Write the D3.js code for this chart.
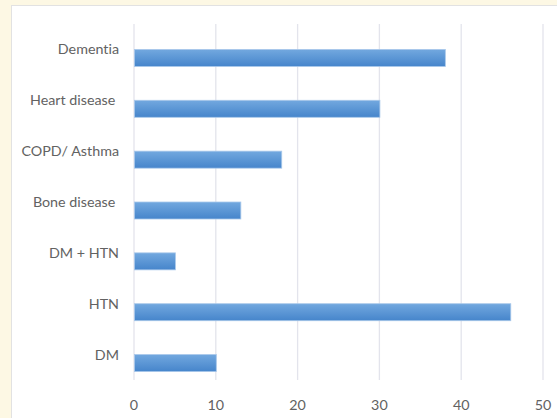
<!DOCTYPE html>
<html>
<head>
<meta charset="utf-8">
<script src="https://cdn.jsdelivr.net/npm/d3@7"></script>
<style>
  body { margin: 0; background: #fdf8e4; }
  svg { display: block; }
  text { font-variant-ligatures: none; }
</style>
</head>
<body>
<div id="chart"></div>
<script>
var categories = ["Dementia", "Heart disease ", "COPD/ Asthma", "Bone disease ", "DM + HTN", "HTN", "DM"];
var values = [38, 30, 18, 13, 5, 46, 10];
var xTicks = [0, 10, 20, 30, 40, 50];

var width = 557, height = 418;

var svg = d3.select("#chart")
    .append("svg")
    .attr("width", width)
    .attr("height", height)

// white chart panel
svg.append("rect")
    .attr("x", 11.5)
    .attr("y", 5.5)
    .attr("width", 560)
    .attr("height", 430)
    .attr("fill", "#ffffff")
    .attr("stroke", "#e2e2e2")

var defs = svg.append("defs")
var grad = defs.append("linearGradient")
    .attr("id", "barGrad")
    .attr("x1", 0).attr("y1", 0).attr("x2", 0).attr("y2", 1)
grad.append("stop").attr("offset", "0%").attr("stop-color", "#72a8df")
grad.append("stop").attr("offset", "100%").attr("stop-color", "#4685cb")

var x = d3.scaleLinear().domain([0, 50]).range([134, 543]);
var y = d3.scaleBand().domain(categories).range([24, 380]);

// gridlines
svg.append("g")
    .selectAll("line")
    .data(xTicks)
    .enter()
    .append("line")
    .attr("x1", function(d) { return x(d) })
    .attr("x2", function(d) { return x(d) })
    .attr("y1", 24)
    .attr("y2", 380)
    .attr("stroke", "#e3e4ec")
    .attr("stroke-width", 1.3)

// bars sit just below category center
svg.append("g")
    .selectAll("rect")
    .data(values)
    .enter()
    .append("rect")
    .attr("x", x(0) + 0.5)
    .attr("y", function(d, i) { return y(categories[i]) + y.bandwidth() / 2 })
    .attr("width", function(d) { return x(d) - x(0) })
    .attr("height", 17)
    .attr("fill", "url(#barGrad)")
    .attr("stroke", "#a9c8ea")
    .attr("stroke-width", 0.8)

var labelFont = "Lato, 'Open Sans', sans-serif";

// category labels
svg.append("g")
    .selectAll("text")
    .data(categories)
    .enter()
    .append("text")
    .attr("x", 119)
    .attr("y", function(d) { return y(d) + y.bandwidth() / 2 })
    .attr("dy", "0.35em")
    .attr("text-anchor", "end")
    .attr("fill", "#626262")
    .style("font-family", labelFont)
    .style("font-size", "14.3px")
    .style("white-space", "pre")
    .text(function(d) { return d })

// x tick labels
svg.append("g")
    .selectAll("text")
    .data(xTicks)
    .enter()
    .append("text")
    .attr("x", function(d) { return x(d) })
    .attr("y", 405)
    .attr("dy", "0.35em")
    .attr("text-anchor", "middle")
    .attr("fill", "#626262")
    .style("font-family", labelFont)
    .style("font-size", "14.3px")
    .text(function(d) { return d })
</script>
</body>
</html>
